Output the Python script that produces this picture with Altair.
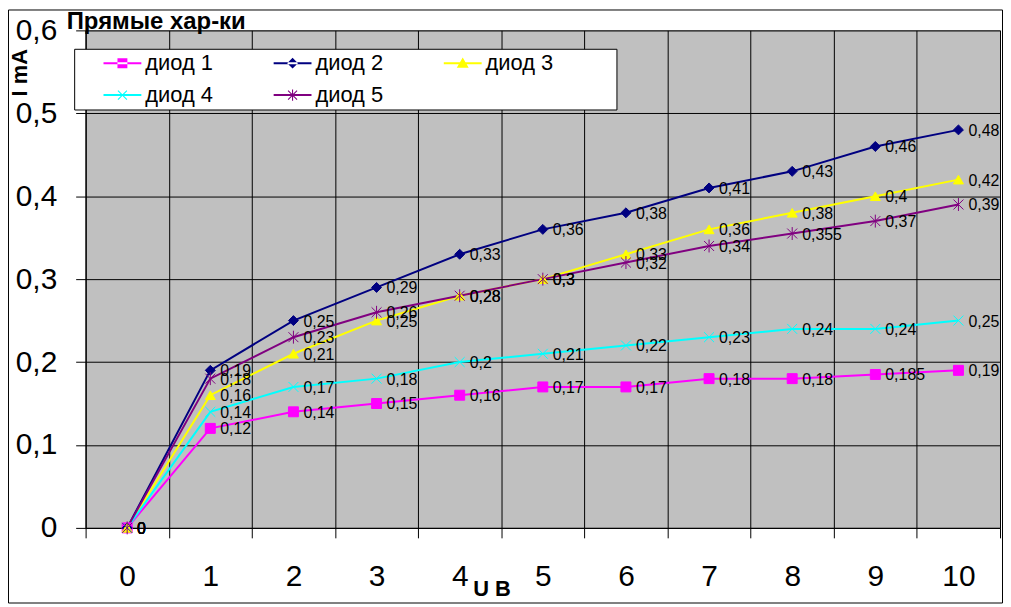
import math
import altair as alt
import pandas as pd

# ---- data ----
U = [0, 1, 2, 3, 4, 5, 6, 7, 8, 9, 10]
series_names = ["диод 1", "диод 2", "диод 3", "диод 4", "диод 5"]
diod1 = [0, 0.12, 0.14, 0.15, 0.16, 0.17, 0.17, 0.18, 0.18, 0.185, 0.19]
diod2 = [0, 0.19, 0.25, 0.29, 0.33, 0.36, 0.38, 0.41, 0.43, 0.46, 0.48]
diod3 = [0, 0.16, 0.21, 0.25, 0.28, 0.30, 0.33, 0.36, 0.38, 0.40, 0.42]
diod4 = [0, 0.14, 0.17, 0.18, 0.20, 0.21, 0.22, 0.23, 0.24, 0.24, 0.25]
diod5 = [0, 0.18, 0.23, 0.26, 0.28, 0.30, 0.32, 0.34, 0.355, 0.37, 0.39]
y_ticks = [0, 0.1, 0.2, 0.3, 0.4, 0.5, 0.6]

colors = ["#FF00FF", "#000080", "#FFFF00", "#00FFFF", "#800080"]
fills = ["#FF00FF", "#000080", "#FFFF00", "transparent", "transparent"]

rows = []
for name, vals in zip(series_names, [diod1, diod2, diod3, diod4, diod5]):
    for u, v in zip(U, vals):
        rows.append({"u": u, "v": float(v), "s": name, "series": name})
df = pd.DataFrame(rows)

FONT = "Liberation Sans"


# ---- marker shapes ----
def seg(p, q, h):
    dx, dy = q[0] - p[0], q[1] - p[1]
    L = math.hypot(dx, dy)
    nx, ny = -dy / L * h, dx / L * h
    pts = [(p[0] + nx, p[1] + ny), (q[0] + nx, q[1] + ny),
           (q[0] - nx, q[1] - ny), (p[0] - nx, p[1] - ny)]
    return "M" + "L".join(f"{a:.3f},{b:.3f}" for a, b in pts) + "Z"


plot_shapes = [
    "square",
    "diamond",
    "triangle-up",
    "M-1,-1L1,1M-1,1L1,-1",
    "M-1,-1L1,1M-1,1L1,-1M0,-1.3L0,1.3",
]
plot_sizes = [100, 100, 144, 100, 110]

# legend symbols: line + marker, all as filled polygons (unit = 6px at size 144)
line = seg((-3.17, 0), (3.17, 0), 0.17)
m = 0.83
leg_shapes = [
    line + f"M{-m},{-m}L{m},{-m}L{m},{m}L{-m},{m}Z",
    line + "M-0.9,0L0,-0.9L0.9,0L0,0.9Z",
    line + "M-1,0.75L1,0.75L0,-0.95Z",
    line + seg((-0.75, -0.75), (0.75, 0.75), 0.09) + seg((-0.75, 0.75), (0.75, -0.75), 0.09),
    line + seg((-0.75, -0.75), (0.75, 0.75), 0.09) + seg((-0.75, 0.75), (0.75, -0.75), 0.09)
    + seg((0, -0.95), (0, 0.95), 0.09),
]

label_expr = "datum.value == 0 ? '0' : replace(format(datum.value, '.1f'), '.', ',')"

x_enc = alt.X(
    "u:O",
    scale=alt.Scale(type="band", paddingInner=0, paddingOuter=0),
    axis=alt.Axis(
        tickBand="extent", grid=True, gridColor="black", gridWidth=1, gridOpacity=1,
        domainColor="black", domainWidth=1, tickColor="black", tickSize=10,
        labelAngle=0, labelFont=FONT, labelFontSize=30, labelColor="black",
        labelBaseline="alphabetic", labelPadding=48,
        title="U В", titleFont=FONT, titleFontSize=22, titleFontWeight="bold",
        titleColor="black", titleX=408, titleY=61, titleAlign="center",
        titleBaseline="middle", titleAngle=0,
    ),
)
y_enc = alt.Y(
    "v:Q",
    scale=alt.Scale(domain=[0, 0.6], nice=False, zero=True),
    axis=alt.Axis(
        values=y_ticks, grid=True, gridColor="black", gridWidth=1, gridOpacity=1,
        domainColor="black", tickColor="black", tickSize=10,
        labelFont=FONT, labelFontSize=30, labelColor="black", labelPadding=19,
        labelExpr=label_expr,
        title="I mA", titleFont=FONT, titleFontSize=22, titleFontWeight="bold",
        titleColor="black", titleX=-66, titleY=42, titleAngle=270,
        titleAlign="center", titleBaseline="middle",
    ),
)

stroke_scale = alt.Scale(domain=series_names, range=colors)

lines = alt.Chart(df).mark_line(strokeWidth=2).encode(
    x=x_enc, y=y_enc,
    stroke=alt.Stroke("s:N", scale=stroke_scale, legend=None),
)

points = alt.Chart(df).mark_point(opacity=1, strokeWidth=1).encode(
    x=x_enc, y=y_enc,
    stroke=alt.Stroke("s:N", scale=stroke_scale, legend=None),
    fill=alt.Fill("s:N", scale=alt.Scale(domain=series_names, range=fills), legend=None),
    shape=alt.Shape("s:N", scale=alt.Scale(domain=series_names, range=plot_shapes), legend=None),
    size=alt.Size("s:N", scale=alt.Scale(domain=series_names, range=plot_sizes), legend=None),
)

labels = alt.Chart(df).transform_calculate(
    lab="replace(toString(datum.v), '.', ',')"
).mark_text(
    align="left", baseline="middle", dx=10, dy=1, font=FONT, fontSize=16, color="black"
).encode(x=x_enc, y=y_enc, text="lab:N")

leg_params = dict(
    title=None, orient="none", legendX=26, legendY=22, columns=3, direction="horizontal",
    columnPadding=59, rowPadding=10, labelOffset=12, symbolSize=144,
    labelFont=FONT, labelFontSize=22, labelColor="black",
    symbolStrokeWidth=0, symbolOpacity=1, labelLimit=200, zindex=2,
)

legend_layer = alt.Chart(df).mark_point(
    filled=True, opacity=0, size=144
).encode(
    x=x_enc, y=y_enc,
    color=alt.Color(
        "series:N",
        scale=alt.Scale(domain=series_names, range=colors),
        legend=alt.Legend(**leg_params),
    ),
    shape=alt.Shape(
        "series:N",
        scale=alt.Scale(domain=series_names, range=leg_shapes),
        legend=alt.Legend(**leg_params),
    ),
)

one = pd.DataFrame({"k": [0]})
legend_box = alt.Chart(one).mark_rect(fill="white", stroke="black", strokeWidth=1).encode(
    x=alt.value(-11), x2=alt.value(534), y=alt.value(19), y2=alt.value(80)
)
outer_border = alt.Chart(one).mark_rect(fill=None, stroke="black", strokeWidth=1).encode(
    x=alt.value(-77.5), x2=alt.value(921.5), y=alt.value(-20.5), y2=alt.value(575.5)
)
title = alt.Chart(one).mark_text(
    align="left", baseline="middle", font=FONT, fontSize=24, fontWeight="bold", color="black"
).encode(x=alt.value(-19), y=alt.value(-8), text=alt.value("Прямые хар-ки"))

chart = alt.layer(
    outer_border, lines, points, labels, legend_box, legend_layer, title
).resolve_scale(
    shape="independent", color="independent", fill="independent",
    stroke="independent", size="independent",
).properties(
    width=919, height=500,
    padding={"left": 78, "top": 21, "right": 3, "bottom": 76},
    autosize=alt.AutoSizeParams(type="none"),
    background="white",
).configure_view(
    fill="#C0C0C0", stroke="#808080", strokeWidth=1
)

chart.save("out.html", embed_options={"renderer": "svg", "actions": False})
